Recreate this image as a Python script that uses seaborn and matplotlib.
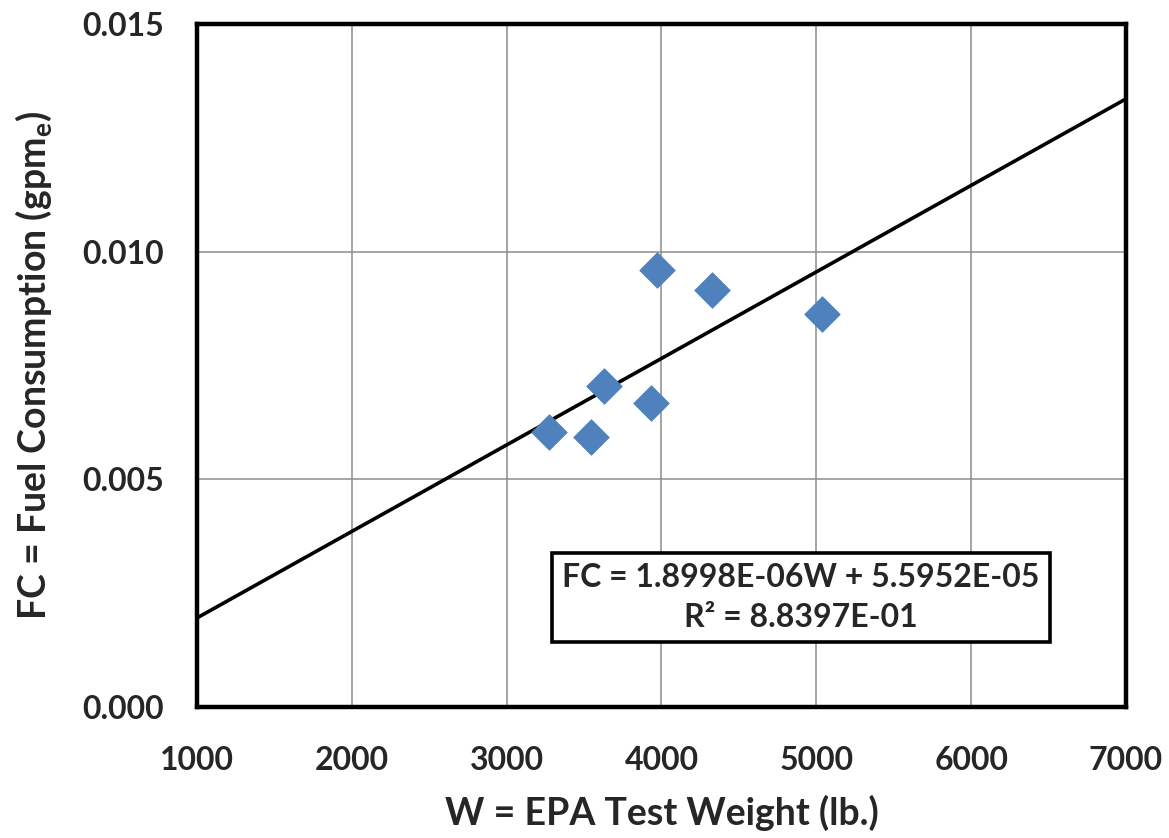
"""Fuel consumption vs EPA test weight, with linear trend line and its equation."""
import matplotlib
matplotlib.use("Agg")
import matplotlib.pyplot as plt
import pandas as pd
import seaborn as sns

# data
weight_lb = [3274, 3545, 3629, 3933, 3972, 4327, 5037]
fuel_gpme = [0.00604, 0.00593, 0.00705, 0.00668, 0.00960, 0.00916, 0.00863]

# trend line from the chart's equation
slope = 1.8998e-06
intercept = 5.5952e-05
r_squared = 8.8397e-01
line_w = [1000, 7000]

x_ticks = [1000, 2000, 3000, 4000, 5000, 6000, 7000]
y_ticks = [0.000, 0.005, 0.010, 0.015]

sns.set_style("white")
plt.rcParams["font.family"] = ["Lato", "DejaVu Sans"]
plt.rcParams["mathtext.fontset"] = "custom"
plt.rcParams["mathtext.rm"] = "Lato:bold"

pts = pd.DataFrame({"W": weight_lb, "FC": fuel_gpme})
trend = pd.DataFrame({"W": line_w, "FC": [slope * w + intercept for w in line_w]})

fig = plt.figure(figsize=(11.69, 8.38), dpi=100)
ax = fig.add_axes([0.1685, 0.1563, 0.7947, 0.8151])

sns.lineplot(trend, x="W", y="FC", color="black", linewidth=2.6, ax=ax, zorder=3)
sns.scatterplot(pts, x="W", y="FC", marker="D", s=330, color="#4F81BD",
                edgecolor="#4F81BD", linewidth=0.5, ax=ax, zorder=4)

ax.set_xlim(1000, 7000)
ax.set_ylim(0, 0.015)
ax.set_xticks(x_ticks)
ax.set_yticks(y_ticks)
ax.set_yticklabels([f"{v:.3f}" for v in y_ticks])
ax.grid(True, color="#8c8c8c", linewidth=1.1)
ax.set_axisbelow(True)
ax.tick_params(axis="both", which="major", direction="out", length=8, width=1,
               color="#8c8c8c", labelsize=23, pad=20)
ax.tick_params(axis="y", pad=16)
for lab in ax.get_xticklabels() + ax.get_yticklabels():
    lab.set_fontweight("bold")
for sp in ax.spines.values():
    sp.set_color("black")
    sp.set_linewidth(3.2)

ax.set_xlabel("W = EPA Test Weight (lb.)", fontsize=27, fontweight="bold", labelpad=14)
ax.set_ylabel(r"FC = Fuel Consumption (gpm$_\mathregular{e}$)", fontsize=27,
              fontweight="bold", labelpad=20)

ax.text(4902, 0.00240,
        f"FC = {slope:.4E}W + {intercept:.4E}\nR² = {r_squared:.4E}",
        ha="center", va="center", fontsize=23, fontweight="bold",
        linespacing=1.45, zorder=5,
        bbox=dict(boxstyle="square,pad=0.32", facecolor="white",
                  edgecolor="black", linewidth=2.6))

fig.savefig("out.png", dpi=100)
